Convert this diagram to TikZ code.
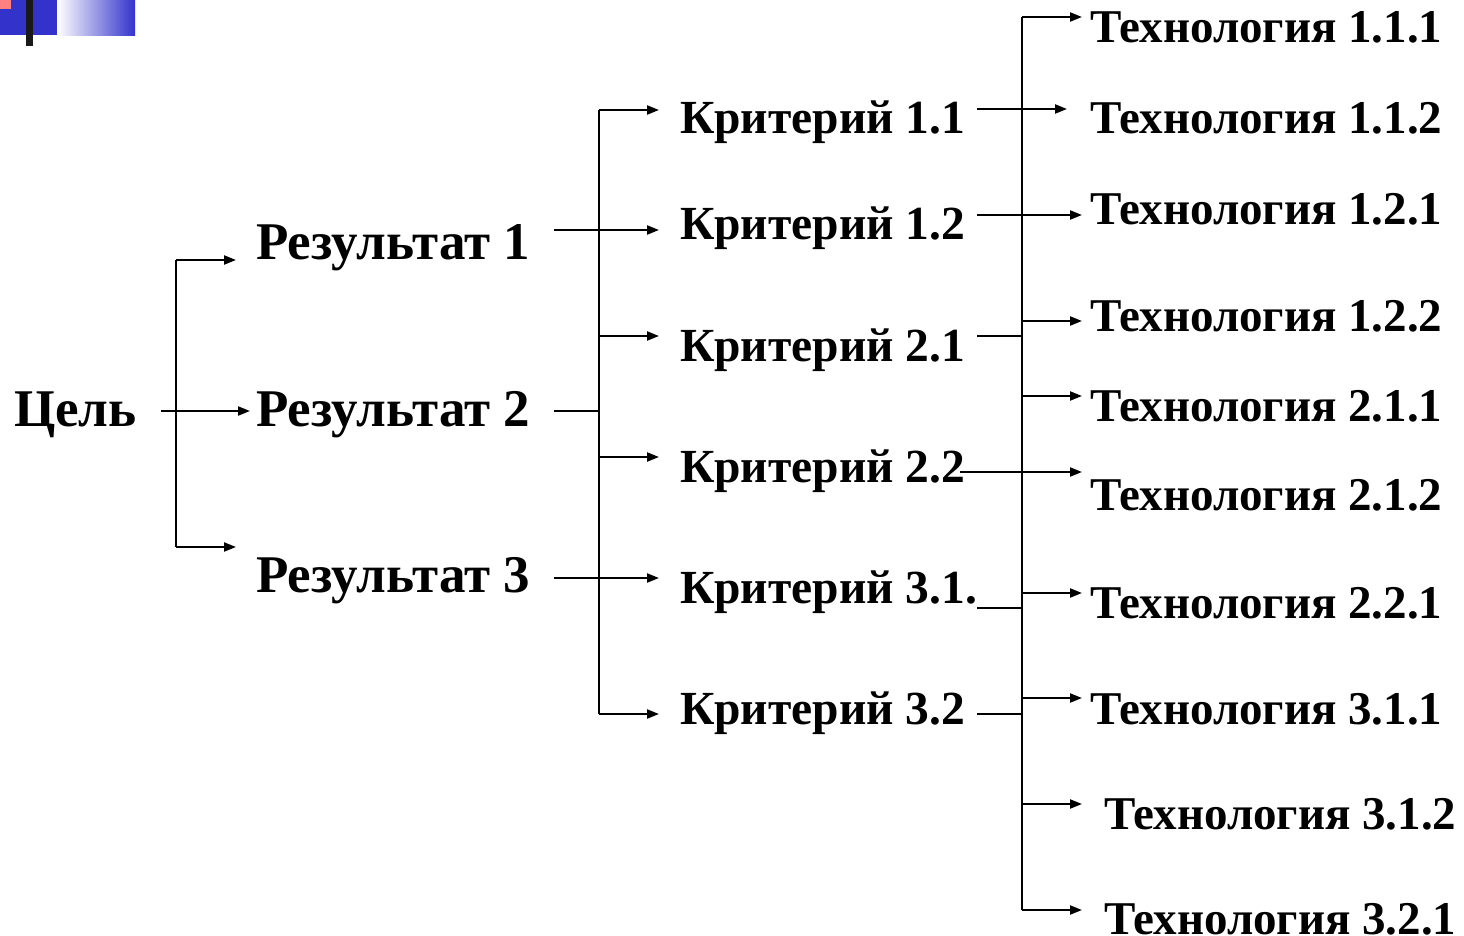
\documentclass[tikz,border=0pt]{standalone}
\usepackage{fontspec}
\setmainfont{Liberation Serif}
\usetikzlibrary{arrows.meta}
\definecolor{deco}{RGB}{51,51,204}
\definecolor{pinkdeco}{RGB}{255,128,128}
\begin{document}
\begin{tikzpicture}[x=1pt,y=-1pt,line width=2.2pt,
  lbl/.style={anchor=base west,inner sep=0pt,font=\bfseries\fontsize{47}{56}\selectfont},
  krit/.style={anchor=base west,inner sep=0pt,font=\bfseries\fontsize{47.5}{56}\selectfont},
  big/.style={anchor=base west,inner sep=0pt,font=\bfseries\fontsize{53}{64}\selectfont},
  arr/.style={-{Triangle[length=12pt,width=9pt]}}]
\useasboundingbox (0,0) rectangle (1464,936);
% decoration
\fill[deco] (0,0) rectangle (57,35);
\fill[pinkdeco] (0,0) rectangle (11,9);
\shade[left color=white,right color=deco] (57,0) rectangle (135,36);
\fill[black!90] (26,0) rectangle (33,46);
% labels
\node[big] (goal) at (13,426) {Цель};
\node[big] (r1) at (255,259) {Результат 1};
\node[big] (r2) at (255,426) {Результат 2};
\node[big] (r3) at (255,592) {Результат 3};
\node[krit] (k11) at (679,134) {Критерий 1.1};
\node[krit] (k12) at (679,240) {Критерий 1.2};
\node[krit] (k21) at (679,361) {Критерий 2.1};
\node[krit] (k22) at (679,482) {Критерий 2.2};
\node[krit] (k31) at (679,603) {Критерий 3.1.};
\node[krit] (k32) at (679,724) {Критерий 3.2};
\node[lbl] (t111) at (1089,43) {Технология 1.1.1};
\node[lbl] (t112) at (1089,134) {Технология 1.1.2};
\node[lbl] (t121) at (1089,225) {Технология 1.2.1};
\node[lbl] (t122) at (1089,331) {Технология 1.2.2};
\node[lbl] (t211) at (1089,421) {Технология 2.1.1};
\node[lbl] (t212) at (1089,510) {Технология 2.1.2};
\node[lbl] (t221) at (1089,618) {Технология 2.2.1};
\node[lbl] (t311) at (1089,724) {Технология 3.1.1};
\node[lbl] (t312) at (1103,829) {Технология 3.1.2};
\node[lbl] (t321) at (1103,934) {Технология 3.2.1};
% left group
\coordinate (gA) at (176,260);
\coordinate (gB) at (176,547);
\draw (gA) -- (gB);
\draw[arr] (gA) -- (236,260);
\draw[arr] (161,411) -- (250,411);
\draw[arr] (gB) -- (236,547);
% middle group
\coordinate (mA) at (599,110);
\coordinate (mB) at (599,714);
\draw (mA) -- (mB);
\draw[arr] (554,230) -- (659,230);
\draw (554,411) -- (599,411);
\draw[arr] (554,578) -- (659,578);
\draw[arr] (mA) -- (659,110);
\draw[arr] (599,336) -- (659,336);
\draw[arr] (599,457) -- (659,457);
\draw[arr] (mB) -- (659,714);
% right group
\coordinate (tA) at (1022,17);
\coordinate (tB) at (1022,910);
\draw (tA) -- (tB);
\draw[arr] (tA) -- (1082,17);
\draw[arr] (977,109) -- (1067,109);
\draw[arr] (977,215) -- (1082,215);
\draw[arr] (1022,321) -- (1082,321);
\draw (977,336) -- (1022,336);
\draw[arr] (1022,396) -- (1082,396);
\draw[arr] (960,472) -- (1082,472);
\draw[arr] (1022,593) -- (1082,593);
\draw (977,608) -- (1022,608);
\draw[arr] (1022,698) -- (1082,698);
\draw (977,714) -- (1022,714);
\draw[arr] (1022,804) -- (1082,804);
\draw[arr] (tB) -- (1082,910);
\end{tikzpicture}
\end{document}
